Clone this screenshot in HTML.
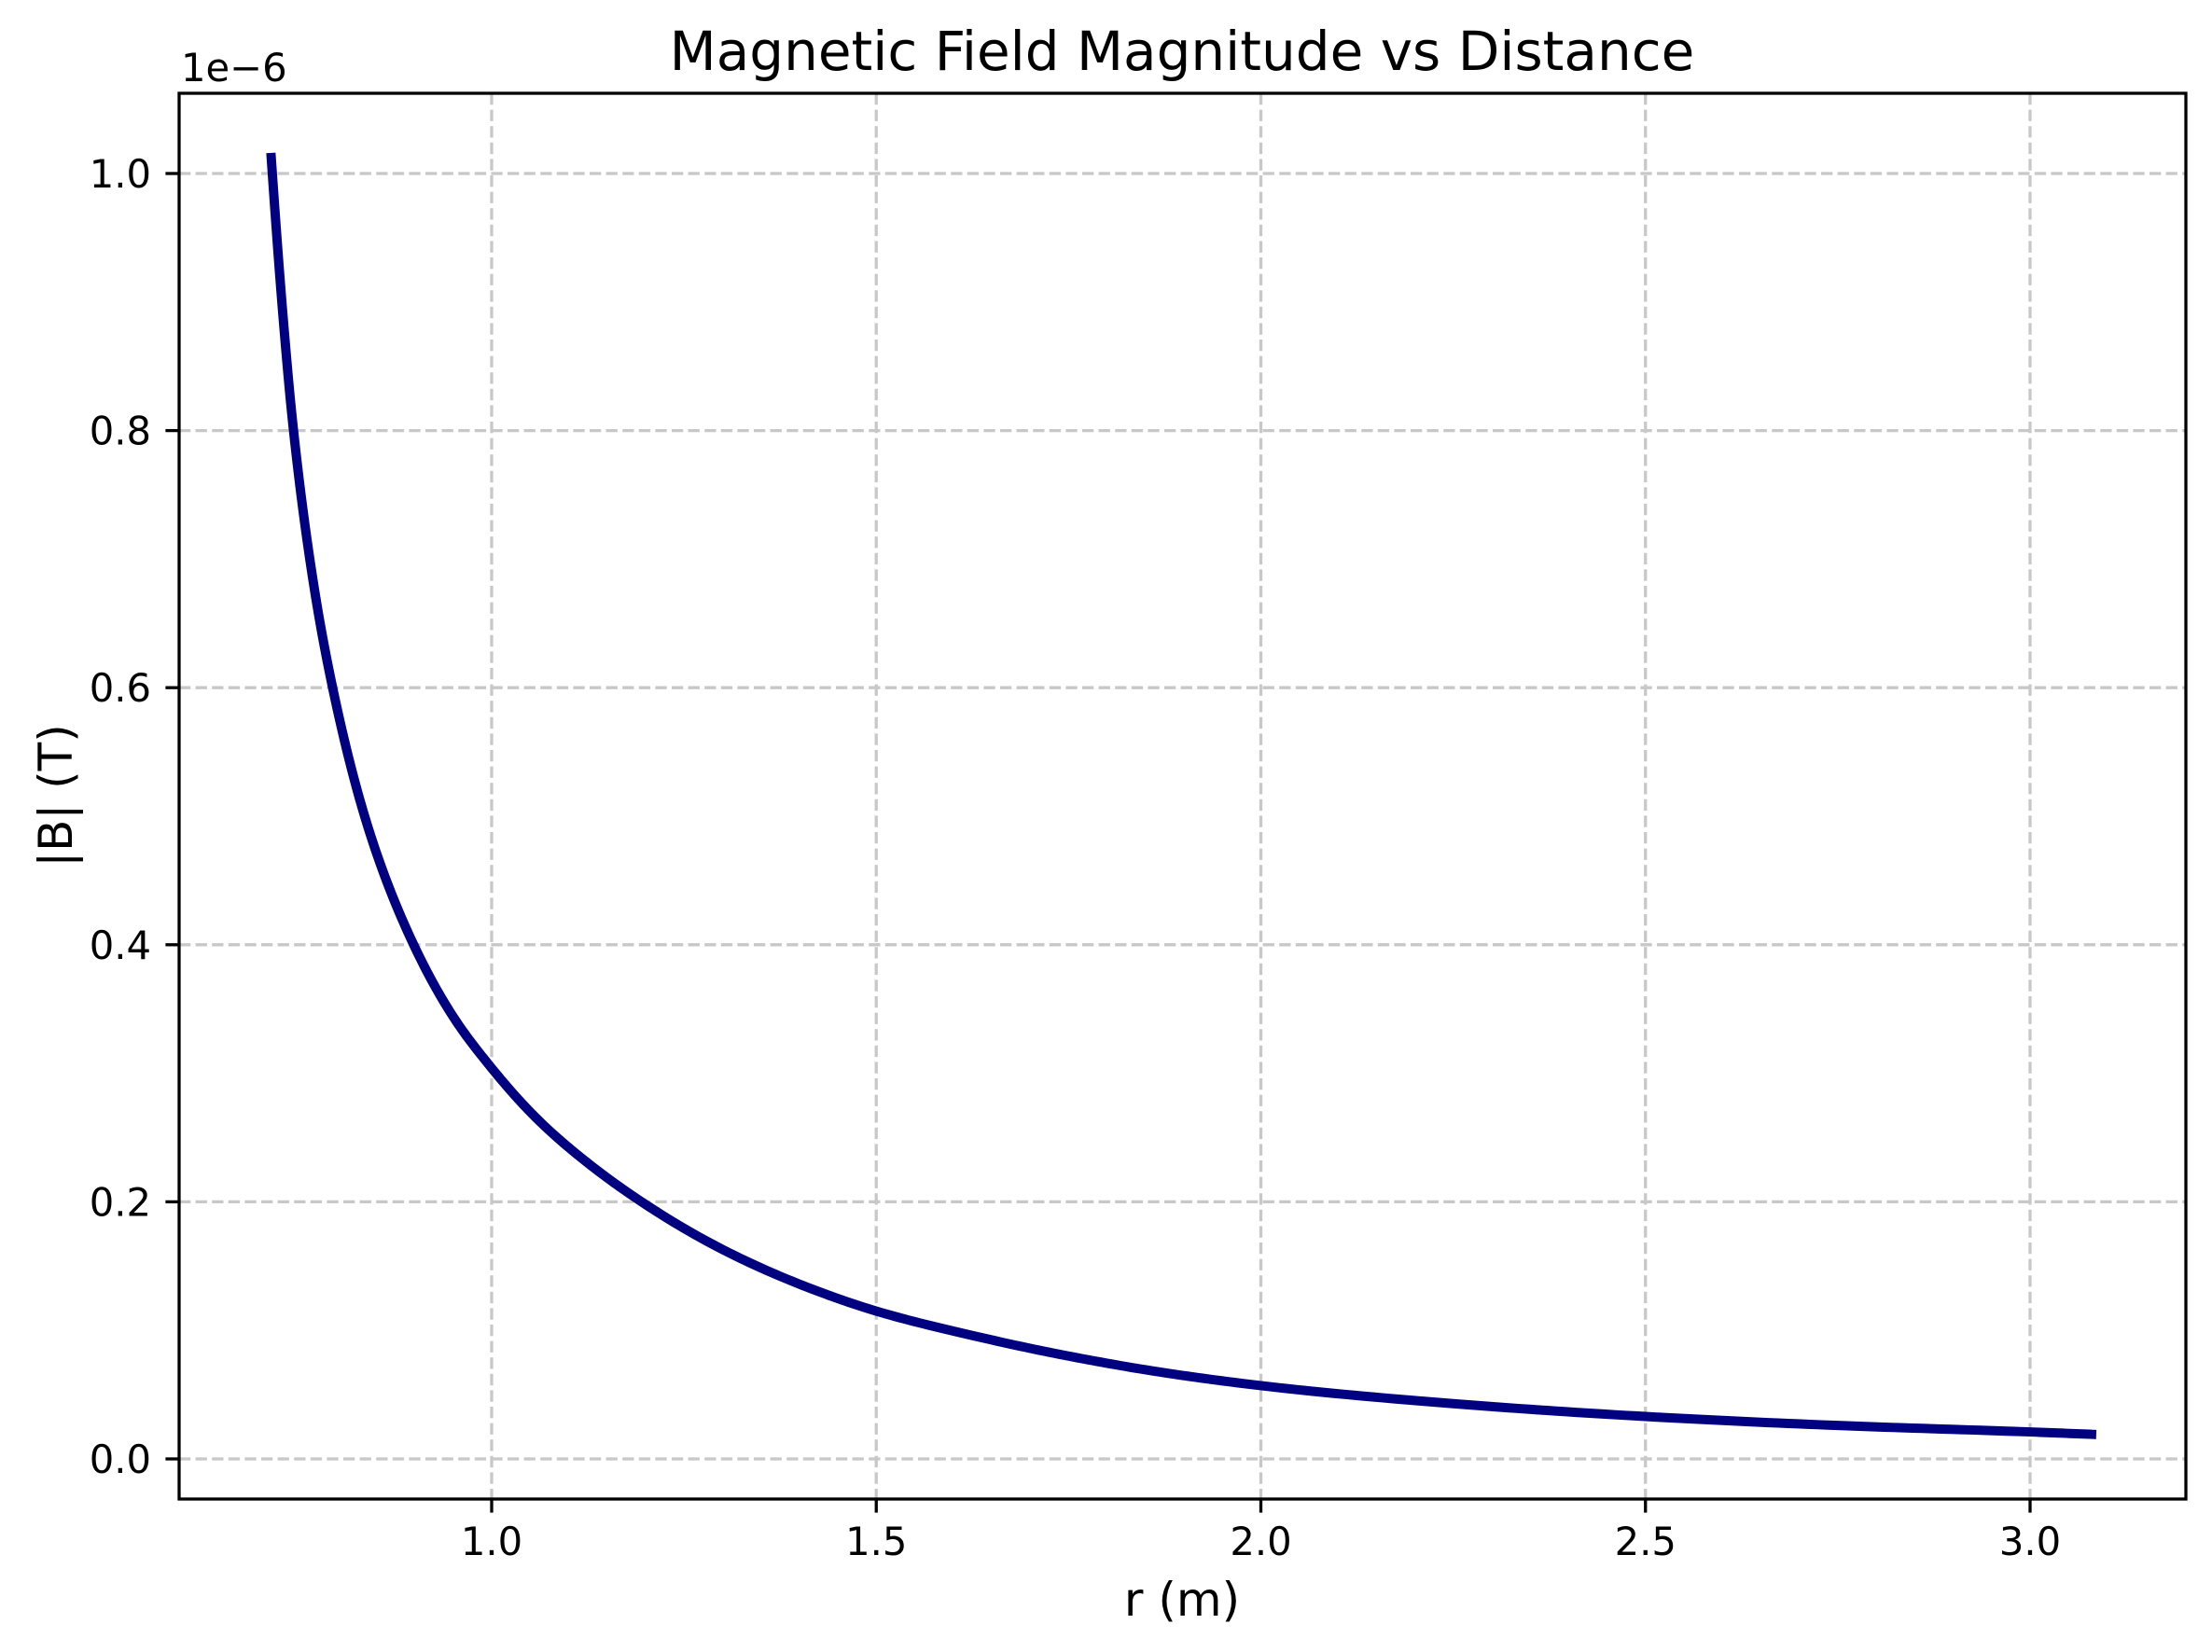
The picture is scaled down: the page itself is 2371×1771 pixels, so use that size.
<!DOCTYPE html>
<html><head><meta charset="utf-8"><style>
html,body{margin:0;padding:0;background:#fff;}
svg{display:block;font-family:"DejaVu Sans","Liberation Sans",sans-serif;}
</style></head><body>
<svg id="chart" width="2371" height="1771" viewBox="0 0 2371 1771" xmlns="http://www.w3.org/2000/svg">
<rect x="0" y="0" width="2371" height="1771" fill="#fff"/>
<g id="grid"></g>
<g id="series"></g>
<rect x="192" y="100" width="2151" height="1507" fill="none" stroke="#000" stroke-width="3.3"/>
<g id="ticks"></g>
<text x="1267" y="75" text-anchor="middle" font-size="58">Magnetic Field Magnitude vs Distance</text>
<text x="1267" y="1732" text-anchor="middle" font-size="50">r (m)</text>
<text x="0" y="0" transform="translate(77,853) rotate(-90)" text-anchor="middle" font-size="50">|B| (T)</text>
<text x="194" y="87" font-size="41.7">1e−6</text>
</svg>
<script>
const rValues = [0.713, 0.730, 0.741, 0.770, 0.795, 0.84, 0.901, 0.95, 1.0, 1.06, 1.134, 1.2, 1.3, 1.4, 1.5, 1.625, 1.75, 1.875, 2.0, 2.25, 2.5, 2.75, 3.0, 3.086];
const bValues = [1.016, 0.880, 0.808, 0.675, 0.595, 0.490, 0.397, 0.344, 0.304, 0.264, 0.226, 0.198, 0.163, 0.136, 0.115, 0.096, 0.080, 0.067, 0.057, 0.043, 0.033, 0.026, 0.021, 0.019];
const xTicks = [1.0, 1.5, 2.0, 2.5, 3.0];
const xTickLabels = ["1.0", "1.5", "2.0", "2.5", "3.0"];
const yTicks = [0.0, 0.2, 0.4, 0.6, 0.8, 1.0];
const yTickLabels = ["0.0", "0.2", "0.4", "0.6", "0.8", "1.0"];

const NS = "http://www.w3.org/2000/svg";
const X0 = 192, X1 = 2343, Y0 = 100, Y1 = 1607;
function xs(v){ return 527 + (v - 1.0) * 824.5; }
function ys(v){ return 1564 - v * 1378; }
function mk(tag, attrs, parent){
  const e = document.createElementNS(NS, tag);
  for (const k in attrs) e.setAttribute(k, attrs[k]);
  parent.appendChild(e);
  return e;
}
const grid = document.getElementById("grid");
const ticks = document.getElementById("ticks");
const series = document.getElementById("series");
const gridStyle = {stroke:"#c8c8c8", "stroke-width":"3.3", "stroke-dasharray":"12.3 5.3", fill:"none"};

xTicks.forEach((v, i) => {
  const x = xs(v);
  const g = mk("line", Object.assign({x1:x, y1:Y0, x2:x, y2:Y1}, gridStyle), grid);
  
  
  const t = mk("line", {x1:x, y1:Y1, x2:x, y2:Y1 + 14.6, stroke:"#000", "stroke-width":"3.3"}, ticks);
  
  
  const l = mk("text", {x:x, y:1667, "text-anchor":"middle", "font-size":"41.7"}, ticks);
  l.textContent = xTickLabels[i];
  
  
});
yTicks.forEach((v, i) => {
  const y = ys(v);
  const g = mk("line", Object.assign({x1:X0, y1:y, x2:X1, y2:y}, gridStyle), grid);
  
  
  const t = mk("line", {x1:X0 - 14.6, y1:y, x2:X0, y2:y, stroke:"#000", "stroke-width":"3.3"}, ticks);
  
  
  const l = mk("text", {x:162, y:y + 15, "text-anchor":"end", "font-size":"41.7"}, ticks);
  l.textContent = yTickLabels[i];
  
  
});

// smooth monotone interpolation in log-log space, sampled densely
const lx = rValues.map(Math.log), ly = bValues.map(Math.log);
const n = lx.length;
const dl = [], m = new Array(n);
for (let i = 0; i < n - 1; i++) dl.push((ly[i + 1] - ly[i]) / (lx[i + 1] - lx[i]));
m[0] = dl[0]; m[n - 1] = dl[n - 2];
for (let i = 1; i < n - 1; i++) {
  if (dl[i - 1] * dl[i] <= 0) { m[i] = 0; }
  else {
    const h0 = lx[i] - lx[i - 1], h1 = lx[i + 1] - lx[i];
    const w1 = 2 * h1 + h0, w2 = h1 + 2 * h0;
    m[i] = (w1 + w2) / (w1 / dl[i - 1] + w2 / dl[i]);
  }
}
const pts = [];
for (let i = 0; i < n - 1; i++) {
  const h = lx[i + 1] - lx[i];
  const steps = 20;
  for (let s = 0; s < steps; s++) {
    const t = s / steps;
    const h00 = 2*t*t*t - 3*t*t + 1, h10 = t*t*t - 2*t*t + t, h01 = -2*t*t*t + 3*t*t, h11 = t*t*t - t*t;
    const yy = h00 * ly[i] + h10 * h * m[i] + h01 * ly[i + 1] + h11 * h * m[i + 1];
    const xx = lx[i] + t * h;
    pts.push(xs(Math.exp(xx)).toFixed(2) + "," + ys(Math.exp(yy)).toFixed(2));
  }
}
pts.push(xs(rValues[n - 1]).toFixed(2) + "," + ys(bValues[n - 1]).toFixed(2));
const line = mk("polyline", {points:pts.join(" "), fill:"none", stroke:"#000080", "stroke-width":"10", "stroke-linejoin":"round"}, series);


</script>
</body></html>
